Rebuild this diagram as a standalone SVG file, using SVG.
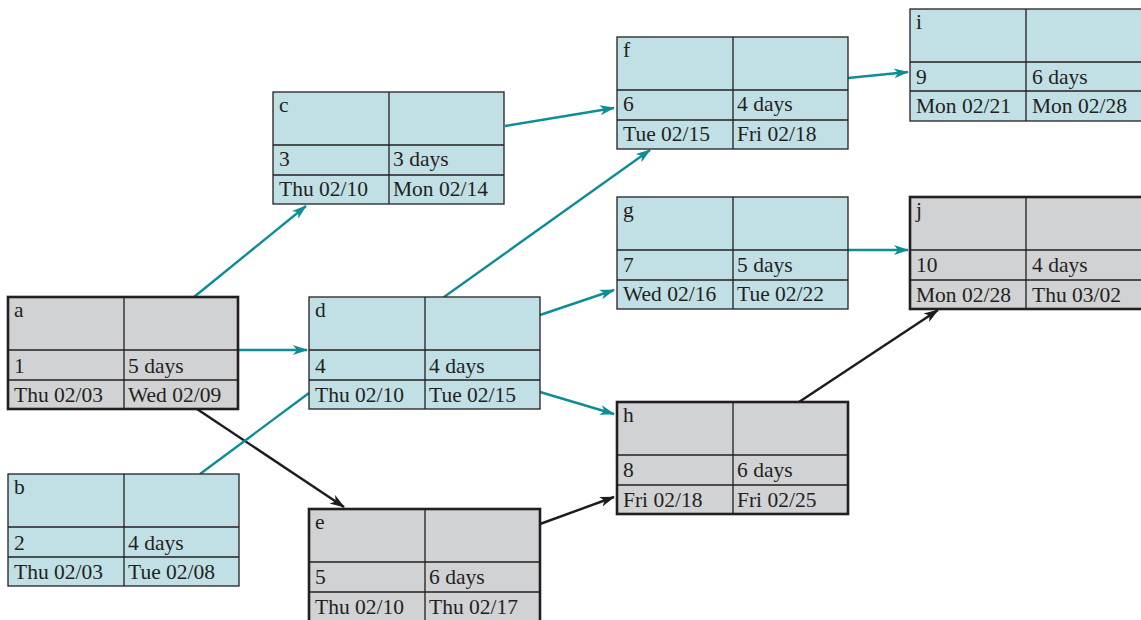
<svg xmlns="http://www.w3.org/2000/svg" width="1141" height="620" viewBox="0 0 1141 620">
<style>
.box{stroke:#231f20;stroke-width:1.3}
.crit .box{stroke-width:2.6}
.teal .box{fill:#c1e0e5}
.crit .box{fill:#d1d2d4}
.ln{stroke:#231f20;stroke-width:1.3;fill:none}
text{font-family:"Liberation Serif","Times New Roman",serif;font-size:21.5px;fill:#231f20}
.ct{stroke:#0e8d97;stroke-width:2.4;fill:none}
.cb{stroke:#1c1c1c;stroke-width:2.4;fill:none}
</style>
<defs>
<marker id="at" markerUnits="userSpaceOnUse" markerWidth="16" markerHeight="12" refX="14" refY="5" orient="auto" viewBox="0 0 16 10">
<path d="M0,0 L15,5 L0,10 L4,5 Z" fill="#0e8d97"/>
</marker>
<marker id="ab" markerUnits="userSpaceOnUse" markerWidth="16" markerHeight="12" refX="14" refY="5" orient="auto" viewBox="0 0 16 10">
<path d="M0,0 L15,5 L0,10 L4,5 Z" fill="#1c1c1c"/>
</marker>
</defs>
<g id="connectors">
<line class="ct" x1="194" y1="297" x2="306" y2="206" marker-end="url(#at)"/>
<line class="ct" x1="239" y1="350" x2="307" y2="350" marker-end="url(#at)"/>
<line class="cb" x1="197" y1="409" x2="344" y2="507" marker-end="url(#ab)"/>
<line class="ct" x1="200" y1="474" x2="309" y2="393"/>
<line class="ct" x1="505" y1="126" x2="614" y2="108" marker-end="url(#at)"/>
<line class="ct" x1="444" y1="297" x2="650" y2="150" marker-end="url(#at)"/>
<line class="ct" x1="540" y1="315" x2="614" y2="290" marker-end="url(#at)"/>
<line class="ct" x1="540" y1="392" x2="614" y2="414" marker-end="url(#at)"/>
<line class="cb" x1="540" y1="524" x2="614" y2="497" marker-end="url(#ab)"/>
<line class="ct" x1="848" y1="78" x2="908" y2="72" marker-end="url(#at)"/>
<line class="ct" x1="848" y1="250" x2="908" y2="250" marker-end="url(#at)"/>
<line class="cb" x1="799" y1="402" x2="938" y2="310" marker-end="url(#ab)"/>
</g>
<g id="node-a" class="crit" transform="translate(8,297)">
<rect class="box" width="230" height="112"/>
<path class="ln" d="M116,0V112M0,53H230M0,83H230"/>
<text x="6" y="20">a</text><text x="6" y="76">1</text><text x="120" y="76">5 days</text>
<text x="6" y="105">Thu 02/03</text><text x="120" y="105">Wed 02/09</text>
</g>
<g id="node-b" class="teal" transform="translate(8,474)">
<rect class="box" width="231" height="112"/>
<path class="ln" d="M116,0V112M0,53H231M0,83H231"/>
<text x="6" y="20">b</text><text x="6" y="76">2</text><text x="120" y="76">4 days</text>
<text x="6" y="105">Thu 02/03</text><text x="120" y="105">Tue 02/08</text>
</g>
<g id="node-c" class="teal" transform="translate(273,92)">
<rect class="box" width="231" height="112"/>
<path class="ln" d="M116,0V112M0,53H231M0,83H231"/>
<text x="6" y="20">c</text><text x="6" y="74">3</text><text x="120" y="74">3 days</text>
<text x="6" y="104">Thu 02/10</text><text x="120" y="104">Mon 02/14</text>
</g>
<g id="node-d" class="teal" transform="translate(309,297)">
<rect class="box" width="231" height="112"/>
<path class="ln" d="M116,0V112M0,53H231M0,83H231"/>
<text x="6" y="20">d</text><text x="6" y="76">4</text><text x="120" y="76">4 days</text>
<text x="6" y="105">Thu 02/10</text><text x="120" y="105">Tue 02/15</text>
</g>
<g id="node-e" class="crit" transform="translate(309,509)">
<rect class="box" width="231" height="116"/>
<path class="ln" d="M116,0V116M0,53H231M0,83H231"/>
<text x="6" y="20">e</text><text x="6" y="75">5</text><text x="120" y="75">6 days</text>
<text x="6" y="105">Thu 02/10</text><text x="120" y="105">Thu 02/17</text>
</g>
<g id="node-f" class="teal" transform="translate(617,37)">
<rect class="box" width="231" height="112"/>
<path class="ln" d="M116,0V112M0,53H231M0,83H231"/>
<text x="6" y="20">f</text><text x="6" y="74">6</text><text x="120" y="74">4 days</text>
<text x="6" y="104">Tue 02/15</text><text x="120" y="104">Fri 02/18</text>
</g>
<g id="node-g" class="teal" transform="translate(617,197)">
<rect class="box" width="231" height="112"/>
<path class="ln" d="M116,0V112M0,53H231M0,83H231"/>
<text x="6" y="20">g</text><text x="6" y="75">7</text><text x="120" y="75">5 days</text>
<text x="6" y="104">Wed 02/16</text><text x="120" y="104">Tue 02/22</text>
</g>
<g id="node-h" class="crit" transform="translate(617,402)">
<rect class="box" width="231" height="112"/>
<path class="ln" d="M116,0V112M0,53H231M0,83H231"/>
<text x="6" y="20">h</text><text x="6" y="75">8</text><text x="120" y="75">6 days</text>
<text x="6" y="105">Fri 02/18</text><text x="120" y="105">Fri 02/25</text>
</g>
<g id="node-i" class="teal" transform="translate(910,9)">
<rect class="box" width="236" height="112"/>
<path class="ln" d="M116,0V112M0,53H236M0,82H236"/>
<text x="6" y="20">i</text><text x="6" y="75">9</text><text x="122" y="75">6 days</text>
<text x="6" y="104">Mon 02/21</text><text x="122" y="104">Mon 02/28</text>
</g>
<g id="node-j" class="crit" transform="translate(910,197)">
<rect class="box" width="236" height="112"/>
<path class="ln" d="M116,0V112M0,53H236M0,83H236"/>
<text x="6" y="20">j</text><text x="6" y="75">10</text><text x="122" y="75">4 days</text>
<text x="6" y="105">Mon 02/28</text><text x="122" y="105">Thu 03/02</text>
</g>
</svg>
